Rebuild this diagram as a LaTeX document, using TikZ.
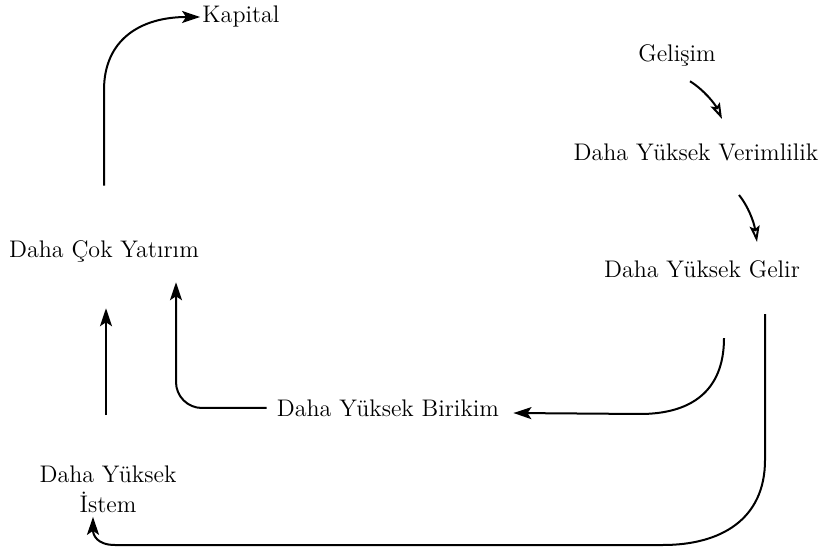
\documentclass[tikz,border=0pt]{standalone}
\usepackage{fontspec}
\usepackage{tikz}
\usetikzlibrary{arrows.meta,calc,positioning}

\tikzset{
  lbl/.style={inner sep=1pt,font=\fontsize{12}{15}\selectfont,align=center},
  flow/.style={line width=1pt,-{Stealth[length=9pt,width=6pt,inset=2pt]}},
  hollow/.style={line width=1pt,-{Stealth[open,length=8pt,width=5pt,inset=1.5pt]}}
}

\begin{document}
\begin{tikzpicture}[x=0.5pt,y=-0.5pt]
			\useasboundingbox (0,0) rectangle (829,549);
			\node[lbl] (kap) at (241,17) {Kapital};
			\node[lbl] (gel) at (677,55) {Gelişim};
			\node[lbl] (ver) at (696,152) {Daha Yüksek Verimlilik};
			\node[lbl] (gir) at (702,269) {Daha Yüksek Gelir};
			\node[lbl] (yat) at (104,251) {Daha Çok Yatırım};
			\node[lbl] (bir) at (388,408) {Daha Yüksek Birikim};
			\node[lbl] (ist) at (108,489) {Daha Yüksek\\İstem};
			\draw[flow] ($(yat.north)+(0,-52)$) -- (104,90) .. controls (104,40) and (140,17) .. (kap.west);
			\draw[hollow] ($(gel.south)+(13,13)$) .. controls (704,90) and (715,104) .. ($(ver.north)+(26,-22)$);
			\draw[hollow] ($(ver.south)+(43,32)$) .. controls (748,206) and (754,222) .. ($(gir.north)+(55,-16)$);
			\draw[flow] ($(gir.south)+(22,58)$) .. controls (724,392) and (690,414) .. (640,414) -- ($(bir.east)+(12,5)$);
			\draw[flow,rounded corners=13pt] ($(bir.west)+(-8,0)$) -| ($(yat.south)+(72,18)$);
			\draw[flow] ($(ist.north)+(-2,-48)$) -- ($(yat.south)+(2,44)$);
			\draw[flow] ($(gir.south)+(63,34)$) -- (765,460) .. controls (765,520) and (720,545) .. (663,545) -- (115,545) .. controls (97,545) and (93,535) .. ($(ist.south)+(-15,2)$);
		\end{tikzpicture}
\end{document}
